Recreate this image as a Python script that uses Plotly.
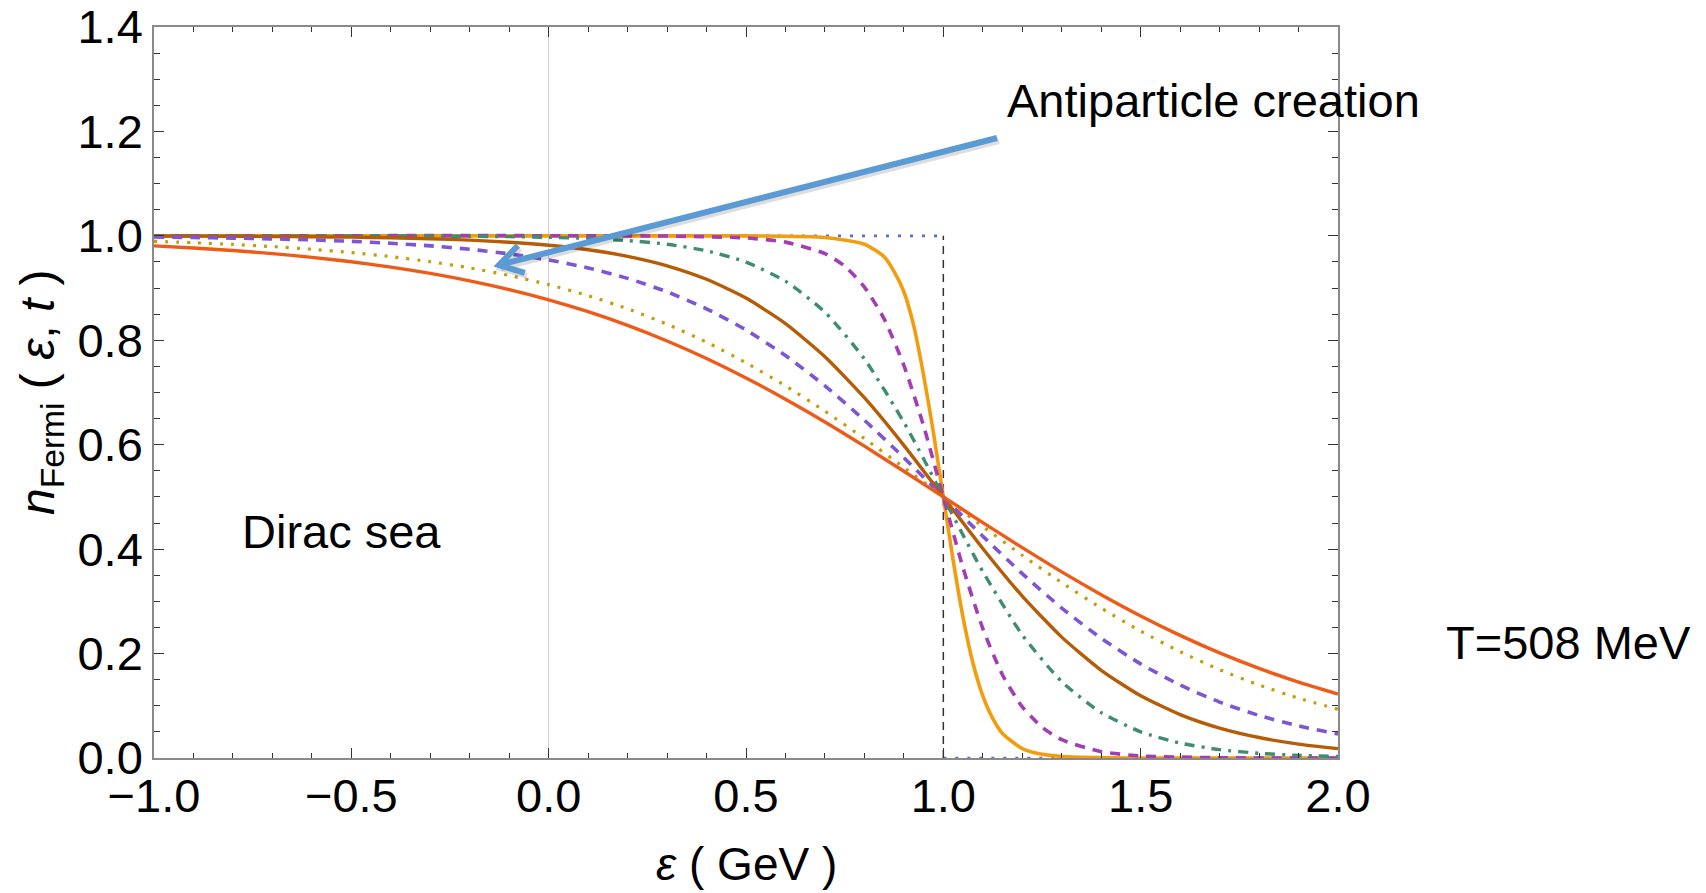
import math
import plotly.graph_objects as go

# ---------------- data ----------------
STEP_X = [-1.0, 1.0, None, 1.0, 2.0]
STEP_Y = [1.0, 1.0, None, 0.0, 0.0]

ORANGE_X = [-1.0, 0.5, 0.7, 0.8, 0.85, 0.875, 0.9, 0.925, 0.95, 0.975, 1.0,
            1.025, 1.05, 1.075, 1.1, 1.125, 1.15, 1.2, 1.25, 1.3, 1.5, 2.0]
ORANGE_Y = [1.0, 1.0, 0.997, 0.984, 0.96, 0.932, 0.893, 0.828, 0.733, 0.623, 0.5,
            0.378, 0.269, 0.182, 0.119, 0.076, 0.047, 0.018, 0.007, 0.003, 0.0, 0.0]

MAGENTA_X = [-1.0, 0.3, 0.5, 0.6, 0.7, 0.75, 0.8, 0.85, 0.9, 0.95, 1.0,
             1.05, 1.1, 1.15, 1.2, 1.25, 1.3, 1.4, 1.5, 1.7, 2.0]
MAGENTA_Y = [1.0, 0.9996, 0.996, 0.988, 0.966, 0.942, 0.902, 0.841, 0.752, 0.636, 0.5,
             0.364, 0.248, 0.159, 0.098, 0.059, 0.035, 0.012, 0.004, 0.0004, 0.0]

GREEN_X = [-1.0, -0.5, -0.3, -0.2, -0.1, 0.0, 0.1, 0.2, 0.3, 0.4, 0.5, 0.6, 0.7, 0.8, 0.9,
           0.95, 1.0, 1.05, 1.1, 1.2, 1.3, 1.4, 1.5, 1.6, 1.7, 1.8, 1.9, 2.0]
GREEN_Y = [1.0, 0.9999, 0.9995, 0.9991, 0.9985, 0.9972, 0.995, 0.991, 0.984, 0.9715,
           0.9498, 0.9132, 0.8538, 0.7643, 0.643, 0.5731, 0.5, 0.4269, 0.357, 0.2357,
           0.1462, 0.0868, 0.0502, 0.0285, 0.016, 0.009, 0.005, 0.0028]

X_GRID = [-1.0, -0.9, -0.8, -0.7, -0.6, -0.5, -0.4, -0.3, -0.2, -0.1, 0.0,
          0.1, 0.2, 0.3, 0.4, 0.5, 0.6, 0.7, 0.8, 0.9, 1.0,
          1.1, 1.2, 1.3, 1.4, 1.5, 1.6, 1.7, 1.8, 1.9, 2.0]

BROWN_Y = [0.9997, 0.9995, 0.9993, 0.9989, 0.9983, 0.9975, 0.9963, 0.9945, 0.9919, 0.9878,
           0.982, 0.9734, 0.9608, 0.9427, 0.9168, 0.8808, 0.832, 0.7685, 0.69, 0.5987, 0.5,
           0.4013, 0.31, 0.2315, 0.168, 0.1192, 0.0832, 0.0573, 0.0392, 0.0266, 0.018]

PURPLE_Y = [0.9977, 0.9968, 0.9957, 0.9942, 0.9922, 0.9895, 0.9858, 0.9809, 0.9743, 0.9655,
            0.9539, 0.9386, 0.9186, 0.8929, 0.8603, 0.8198, 0.7707, 0.7128, 0.647, 0.5752, 0.5,
            0.4248, 0.353, 0.2872, 0.2293, 0.1802, 0.1397, 0.1071, 0.0814, 0.0614, 0.0461]

GOLD_Y = [0.9895, 0.9869, 0.9836, 0.9794, 0.9743, 0.968, 0.9602, 0.9505, 0.9386, 0.9241,
          0.9066, 0.8854, 0.8603, 0.8308, 0.7964, 0.757, 0.7128, 0.6642, 0.6118, 0.5566, 0.5,
          0.4434, 0.3882, 0.3358, 0.2872, 0.243, 0.2036, 0.1692, 0.1397, 0.1146, 0.0934]

RED_Y = [0.9809, 0.9768, 0.9719, 0.966, 0.9589, 0.9504, 0.9402, 0.9282, 0.9139, 0.8971,
         0.8775, 0.8547, 0.8285, 0.7987, 0.7651, 0.7279, 0.6872, 0.6436, 0.5972, 0.5491, 0.5,
         0.4509, 0.4028, 0.3564, 0.3128, 0.2721, 0.2349, 0.2013, 0.1715, 0.1453, 0.1225]

MU_LINE_X = [1.0, 1.0]
MU_LINE_Y = [0.0, 1.0]

X_TICKS = [-1.0, -0.5, 0.0, 0.5, 1.0, 1.5, 2.0]
Y_TICKS = [0.0, 0.2, 0.4, 0.6, 0.8, 1.0, 1.2, 1.4]

# ---------------- layout geometry ----------------
W, H = 1706, 893
L, R, T, B = 146, 376, 19, 143
X0, X1 = -1.0, 2.0
Y0, Y1 = 0.0, 1.4

# reference-image geometry of the plot frame (for placing texts/arrow)
RL, RR, RT, RB = 153, 1337, 27, 758

FONT = "Liberation Sans, Arial, Helvetica, sans-serif"


def ref_px_to_data(px, py):
    return (X0 + (px - RL) / (RR - RL) * (X1 - X0),
            Y1 - (py - RT) / (RB - RT) * (Y1 - Y0))


def ref_px_to_paper(px, py):
    return (px - RL) / (RR - RL), (RB - py) / (RB - RT)


fig = go.Figure()

fig.add_trace(go.Scatter(x=MU_LINE_X, y=MU_LINE_Y, mode="lines",
                         line=dict(color="#333333", width=1.5, dash="8px,6px"),
                         showlegend=False, hoverinfo="skip"))

series = [
    (STEP_X, STEP_Y, "#5a6dc5", 2.6, "3px,9px", "linear"),
    (ORANGE_X, ORANGE_Y, "#f39c0e", 3.6, "solid", "spline"),
    (MAGENTA_X, MAGENTA_Y, "#a23db4", 3.6, "10px,8px", "spline"),
    (GREEN_X, GREEN_Y, "#3f8c70", 3.4, "10px,7px,3px,7px", "spline"),
    (X_GRID, BROWN_Y, "#b65c06", 3.4, "solid", "spline"),
    (X_GRID, PURPLE_Y, "#7d55d5", 3.6, "10px,8px", "spline"),
    (X_GRID, GOLD_Y, "#c69c0c", 3.2, "3px,8px", "spline"),
    (X_GRID, RED_Y, "#ee5b18", 3.4, "solid", "spline"),
]

for xs, ys, col, wdt, dsh, shp in series:
    fig.add_trace(go.Scatter(x=xs, y=ys, mode="lines",
                             line=dict(color=col, width=wdt, dash=dsh,
                                       shape=shp, smoothing=0.6),
                             showlegend=False, hoverinfo="skip"))

# ---------------- arrow (Antiparticle creation) ----------------
ARROW_TAIL = (996, 138)
ARROW_TIP = (498, 265)
dx, dy = ARROW_TAIL[0] - ARROW_TIP[0], ARROW_TAIL[1] - ARROW_TIP[1]
ang = math.atan2(dy, dx)
arm = 27
a1 = (ARROW_TIP[0] + arm * math.cos(ang + 0.55), ARROW_TIP[1] + arm * math.sin(ang + 0.55))
a2 = (ARROW_TIP[0] + arm * math.cos(ang - 0.55), ARROW_TIP[1] + arm * math.sin(ang - 0.55))


def path_from(points):
    parts = []
    for i, (px, py) in enumerate(points):
        x, y = ref_px_to_data(px, py)
        parts.append(("M" if i == 0 else "L") + f"{x:.5f},{y:.5f}")
    return " ".join(parts)


for off, col, op in [((2, 3), "#000000", 0.13), ((0, 0), "#5b9bd5", 1.0)]:
    shaft = [(ARROW_TAIL[0] + off[0], ARROW_TAIL[1] + off[1]),
             (ARROW_TIP[0] + off[0], ARROW_TIP[1] + off[1])]
    head = [(a1[0] + off[0], a1[1] + off[1]),
            (ARROW_TIP[0] + off[0], ARROW_TIP[1] + off[1]),
            (a2[0] + off[0], a2[1] + off[1])]
    for pts in (shaft, head):
        fig.add_shape(type="path", path=path_from(pts), xref="x", yref="y",
                      line=dict(color=col, width=6), opacity=op, layer="above")


# ---------------- texts ----------------
def ref_text(px, py, text, size, angle=0):
    xp, yp = ref_px_to_paper(px, py)
    fig.add_annotation(x=xp, y=yp, xref="paper", yref="paper", text=text,
                       showarrow=False, textangle=angle,
                       font=dict(family=FONT, size=size, color="black"),
                       xanchor="center", yanchor="middle")


ref_text(1212, 101, "Antiparticle creation", 47)
ref_text(340, 531, "Dirac sea", 47)
ref_text(1567, 642, "T=508 MeV", 47)
ref_text(745, 864, "<i>ε</i> ( GeV )", 46)
ref_text(40, 392, "<i>n</i><sub>Fermi</sub> ( <i>ε</i>, <i>t</i> )", 48, angle=-90)

axis_common = dict(
    showline=True, mirror="ticks", linecolor="#8a8a8a", linewidth=1.6,
    ticks="inside", ticklen=10, tickwidth=1.3, tickcolor="#333333",
    showgrid=False, tickformat=".1f", ticklabeloverflow="allow",
    automargin=False,
    tickfont=dict(family=FONT, size=47, color="black"),
    layer="above traces",
)

fig.update_xaxes(range=[X0, X1], tickvals=X_TICKS, zeroline=True,
                 zerolinecolor="#d0d0d0", zerolinewidth=1.2,
                 ticklabelstandoff=-4,
                 minor=dict(dtick=0.1, tick0=0, ticks="inside", ticklen=5,
                            tickwidth=1.2, tickcolor="#333333"),
                 **axis_common)
fig.update_yaxes(range=[Y0, Y1], tickvals=Y_TICKS, zeroline=False,
                 minor=dict(dtick=0.05, tick0=0, ticks="inside", ticklen=6,
                            tickwidth=1.2, tickcolor="#333333"),
                 **axis_common)

fig.update_layout(width=W, height=H, autosize=False,
                  margin=dict(l=L, r=R, t=T, b=B),
                  paper_bgcolor="white", plot_bgcolor="white",
                  font=dict(family=FONT))

fig.write_html("out.html")
